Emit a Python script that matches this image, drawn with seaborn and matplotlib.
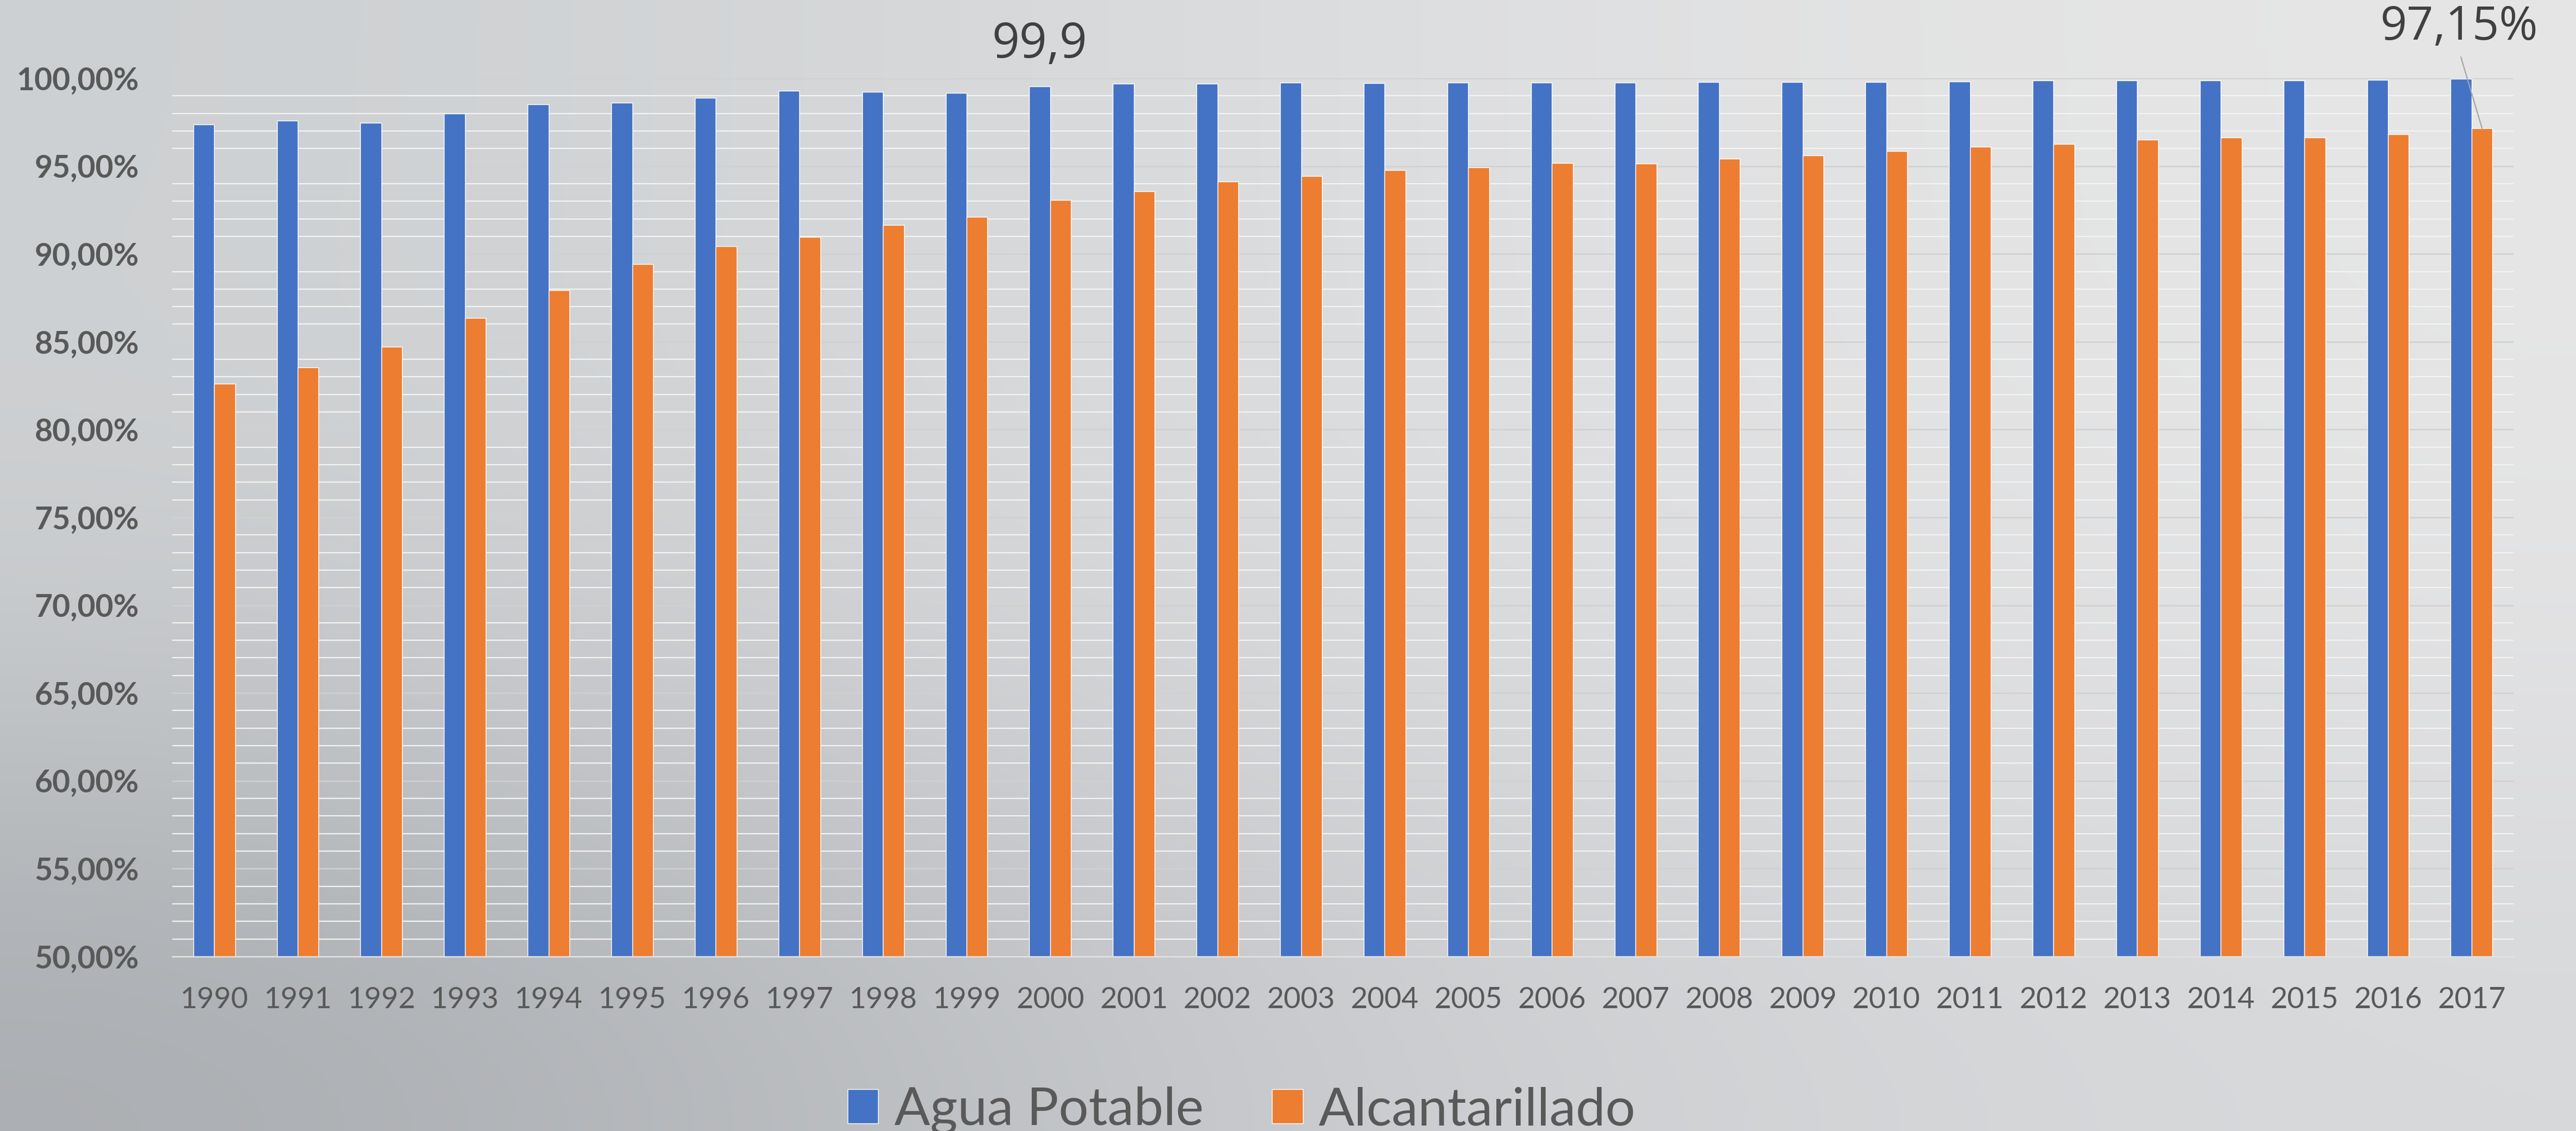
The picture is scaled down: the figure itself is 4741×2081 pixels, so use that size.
import numpy as np
import pandas as pd
import matplotlib
matplotlib.use('Agg')
import matplotlib.pyplot as plt
import seaborn as sns
from matplotlib.ticker import MultipleLocator

# Cobertura (%) por año
years = ['1990', '1991', '1992', '1993', '1994', '1995', '1996', '1997', '1998', '1999',
         '2000', '2001', '2002', '2003', '2004', '2005', '2006', '2007', '2008', '2009',
         '2010', '2011', '2012', '2013', '2014', '2015', '2016', '2017']
agua_potable = [97.37, 97.59, 97.45, 98.00, 98.52, 98.61, 98.89, 99.30, 99.24, 99.18,
                99.55, 99.70, 99.70, 99.74, 99.73, 99.76, 99.76, 99.76, 99.78, 99.79,
                99.79, 99.81, 99.89, 99.89, 99.89, 99.88, 99.91, 99.96]
alcantarillado = [82.61, 83.54, 84.70, 86.36, 87.92, 89.41, 90.43, 90.97, 91.65, 92.11,
                  93.06, 93.57, 94.12, 94.43, 94.78, 94.93, 95.18, 95.15, 95.42, 95.61,
                  95.86, 96.11, 96.27, 96.49, 96.63, 96.63, 96.81, 97.15]
series_names = ['Agua Potable', 'Alcantarillado']
colors = ['#4472C4', '#ED7D31']
y_ticks = [50, 55, 60, 65, 70, 75, 80, 85, 90, 95, 100]

df = pd.DataFrame({
    'year': years * 2,
    'value': agua_potable + alcantarillado,
    'serie': [series_names[0]] * len(years) + [series_names[1]] * len(years),
})

sns.set_style('white')
plt.rcParams['font.family'] = ['Lato', 'DejaVu Sans']

fig = plt.figure(figsize=(47.41, 20.81), dpi=100)

# gradient background
bg = fig.add_axes([0, 0, 1, 1], zorder=-10)
grad = np.array([
    [[205, 208, 210], [220, 221, 223], [230, 230, 230]],
    [[206, 208, 210], [220, 221, 223], [229, 229, 230]],
    [[170, 173, 177], [202, 204, 207], [216, 217, 219]],
]) / 255.0
bg.imshow(grad, aspect='auto', interpolation='bicubic', extent=[0, 1, 0, 1])
bg.set_axis_off()

ax = fig.add_axes([0.0669, 0.1543, 0.9088, 0.7765])
ax.patch.set_alpha(0)

sns.barplot(data=df, x='year', y='value', hue='serie', palette=colors,
            width=0.5, saturation=1, ax=ax)

ax.set_ylim(50, 100)
ax.set_yticks(y_ticks)
ax.set_yticklabels([f'{v:.2f}%'.replace('.', ',') for v in y_ticks], fontweight='bold')
ax.yaxis.set_minor_locator(MultipleLocator(1))
ax.set_axisbelow(True)
ax.grid(which='minor', axis='y', color='#f3f3f3', lw=1.6)
ax.grid(which='major', axis='y', color='#d0d0d0', lw=1.8)
ax.grid(axis='x', visible=False)

for s in ['top', 'right', 'left']:
    ax.spines[s].set_visible(False)
ax.spines['bottom'].set_color('#e2e2e2')
ax.spines['bottom'].set_linewidth(1.8)

ax.tick_params(axis='y', which='both', length=0, pad=44, labelsize=41,
               labelcolor='#595959')
ax.tick_params(axis='x', length=0, pad=40, labelsize=39, labelcolor='#595959')
ax.set_xlabel('')
ax.set_ylabel('')

# data labels
ax.text(9.875, 101.9, '99,9', ha='center', va='center', fontsize=64,
        color='#404040', family=['Open Sans', 'DejaVu Sans'], clip_on=False)
ax.annotate('97,15%', xy=(27.125, alcantarillado[-1]), xytext=(26.85, 102.9),
            ha='center', va='center', fontsize=62, color='#404040',
            family=['Open Sans', 'DejaVu Sans'], annotation_clip=False,
            arrowprops=dict(arrowstyle='-', color='#a6a6a6', lw=1.6,
                            shrinkA=6, shrinkB=0, relpos=(0.5, 0)))

handles, labels = ax.get_legend_handles_labels()
ax.get_legend().remove()
fig.legend(handles, labels, loc='center', bbox_to_anchor=(0.482, 0.018), ncol=2,
           frameon=False, fontsize=70, labelcolor='#595959', handlelength=0.58,
           handleheight=0.62, handletextpad=0.3, columnspacing=1.3)

fig.savefig('out.png', dpi=100)
